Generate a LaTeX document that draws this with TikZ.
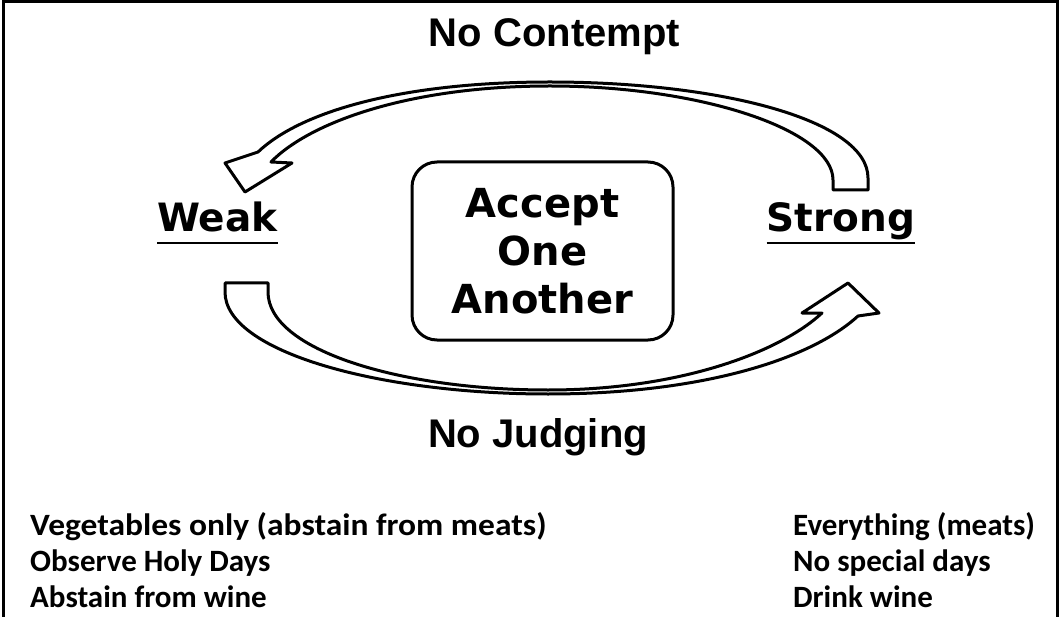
\documentclass[tikz,border=0pt]{standalone}
\usepackage{fontspec}
\setmainfont{DejaVu Sans}
\newfontfamily\arialfont{Liberation Sans}
\newfontfamily\calfont{Carlito}
\newfontfamily\calwide{Carlito}[FakeStretch=1.08]
\newfontfamily\dvfont{DejaVu Sans}
\tikzset{
  lbl/.style={inner sep=0pt, font=\dvfont\bfseries\fontsize{39}{44}\selectfont},
  ttl/.style={inner sep=0pt, font=\arialfont\bfseries\fontsize{40}{46}\selectfont},
  bt/.style={inner sep=0pt, anchor=base west, font=\calfont\bfseries\fontsize{31}{36}\selectfont},
  cbox/.style={draw, line width=3pt, rounded corners=25pt, align=center,
    minimum width=261pt, minimum height=178pt, inner sep=0pt,
    font=\dvfont\bfseries\fontsize{40}{48}\selectfont},
  arr/.style={draw, line width=3pt, fill=white, line join=round},
  uline/.style={line width=2.5pt}
}
\begin{document}
\begin{tikzpicture}[x=1pt,y=-1pt]
\useasboundingbox (0,0) rectangle (1059,617);
% frame
\draw[line width=3pt] (3,617) -- (3,2) -- (1057.5,2) -- (1057.5,617);
% centre box
\node[cbox] (accept) at (542.5,251) {Accept\\One\\Another};
% labels
\node[lbl, anchor=base] (weak) at (217.5,232) {Weak};
\node[lbl, anchor=base] (strong) at (841,232) {Strong};
\draw[uline] ([yshift=-11pt]weak.base west) -- ([yshift=-11pt]weak.base east);
\draw[uline] ([yshift=-11pt]strong.base west) -- ([yshift=-11pt]strong.base east);
\node[ttl, anchor=base] (contempt) at (554.5,47) {No Contempt};
\node[ttl, anchor=base] (judging) at (538,447) {No Judging};
% top curved arrow (strong -> weak)
\draw[arr] (868,190) -- (868,178) .. controls (868,120) and (720,82) .. (550,82)
  .. controls (400,82) and (300,112) .. (258,152) -- (225,163) -- (245,192)
  -- (292,163) -- (271,162) .. controls (310,122) and (410,86) .. (550,86)
  .. controls (700,86) and (833,130) .. (833,180) -- (833,190) -- cycle;
% bottom curved arrow (weak -> strong)
\draw[arr] (225,283) -- (225,292) .. controls (225,352) and (380,394) .. (548,394)
  .. controls (700,394) and (810,360) .. (858,316) -- (879,313) -- (848,283)
  -- (802,313) -- (822,313) .. controls (780,352) and (680,390) .. (548,390)
  .. controls (400,390) and (268,350) .. (268,292) -- (268,283) -- cycle;
% bottom lists
\node[bt, font=\calwide\bfseries\fontsize{31}{36}\selectfont] (w1) at (30,535) {Vegetables only (abstain from meats)};
\node[bt] (w2) at (30,571) {Observe Holy Days};
\node[bt] (w3) at (30,607) {Abstain from wine};
\node[bt] (s1) at (793,535) {Everything (meats)};
\node[bt] (s2) at (793,571) {No special days};
\node[bt] (s3) at (793,607) {Drink wine};
\end{tikzpicture}
\end{document}
